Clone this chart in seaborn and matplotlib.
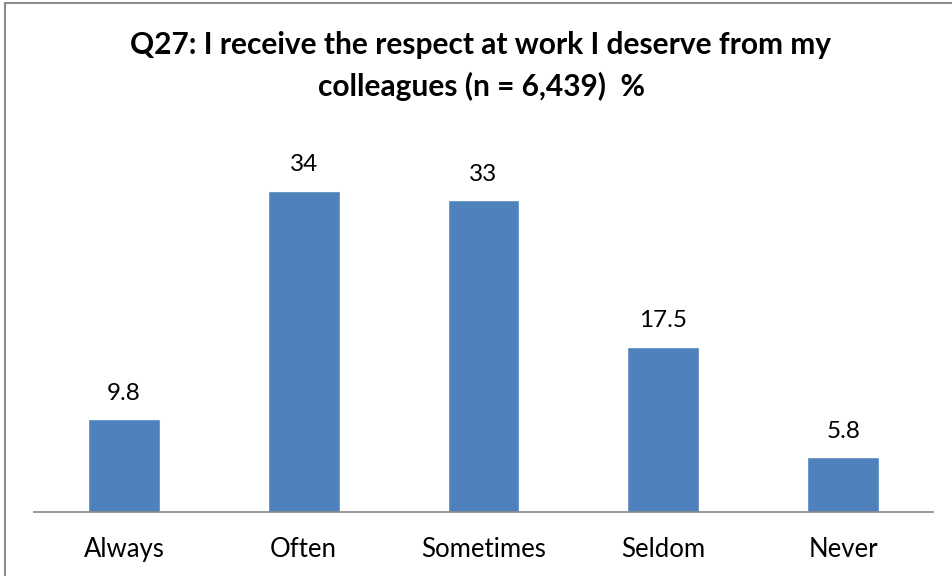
import matplotlib
matplotlib.use("Agg")
import matplotlib.pyplot as plt
from matplotlib.patches import Rectangle
import seaborn as sns
import pandas as pd

categories = ["Always", "Often", "Sometimes", "Seldom", "Never"]
values = [9.8, 34, 33, 17.5, 5.8]
value_labels = ["9.8", "34", "33", "17.5", "5.8"]
title_lines = ["Q27: I receive the respect at work I deserve from my",
               "colleagues (n = 6,439)  %"]

sns.set_theme(style="white")
plt.rcParams["font.family"] = ["Lato", "DejaVu Sans"]

df = pd.DataFrame({"category": categories, "value": values})

W, H = 952, 576
fig = plt.figure(figsize=(W / 100, H / 100), dpi=100)
ax = fig.add_axes([34 / W, 1 - 512 / H, (933 - 34) / W, (512 - 134) / H])

sns.barplot(data=df, x="category", y="value", color="#4F81BD",
            saturation=1, width=0.4, ax=ax)

ax.set_ylim(0, 40)
ax.set_xlim(-0.5, len(categories) - 0.5)
ax.set_xlabel("")
ax.set_ylabel("")
ax.set_yticks([])
ax.tick_params(axis="x", length=0, pad=18, labelsize=18.5, labelcolor="black")
for side in ["top", "right", "left"]:
    ax.spines[side].set_visible(False)
ax.spines["bottom"].set_color("#868686")
ax.spines["bottom"].set_linewidth(1.2)

for patch, lab in zip(ax.patches, value_labels):
    ax.annotate(lab, (patch.get_x() + patch.get_width() / 2, patch.get_height()),
                xytext=(0, 11), textcoords="offset points",
                ha="center", va="bottom", fontsize=17.5, color="black")

fig.text(481 / W, 1 - 45 / H, title_lines[0], ha="center", va="center",
         fontsize=21.5, fontweight="bold", color="black")
fig.text(481 / W, 1 - 86 / H, title_lines[1], ha="center", va="center",
         fontsize=21.5, fontweight="bold", color="black")

fig.patches.append(Rectangle((5 / W, -0.5), 2, 1.5 - 3 / H, transform=fig.transFigure,
                             fill=False, edgecolor="#8C8C8C", linewidth=1.5))

fig.savefig("out.png", dpi=100)
